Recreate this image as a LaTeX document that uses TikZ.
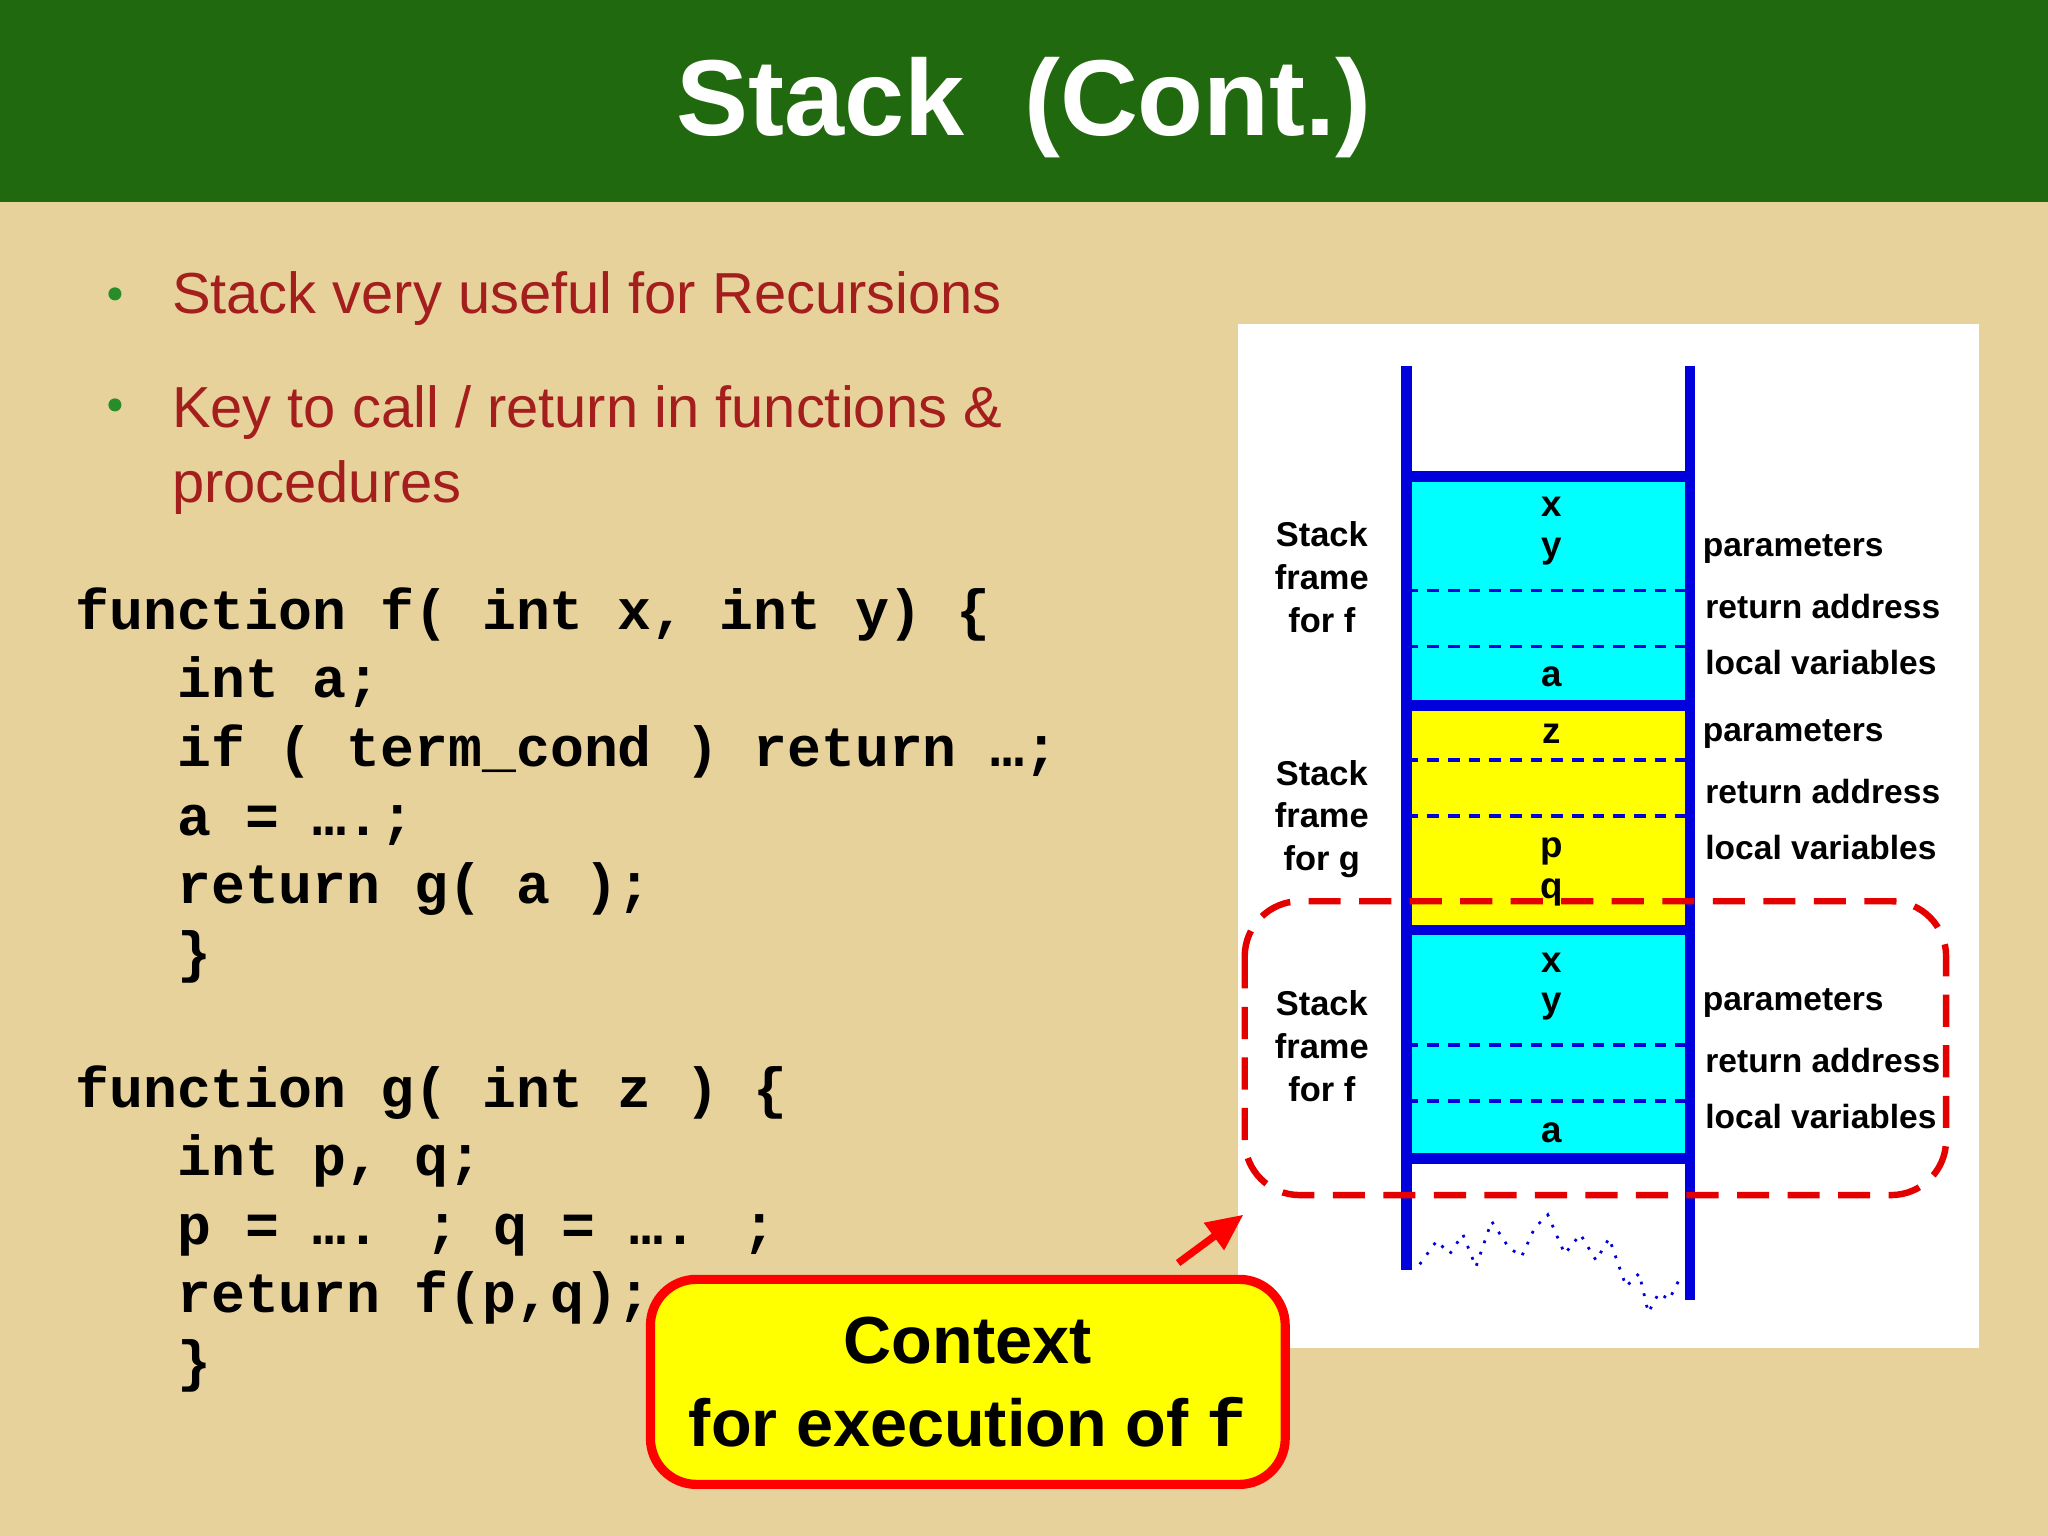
\documentclass[tikz,border=0pt]{standalone}
\usepackage{fontspec}
\setmainfont{Liberation Sans}
\newfontfamily\codefont{Liberation Mono}
\usetikzlibrary{arrows.meta}
\definecolor{bargreen}{RGB}{33,105,14}
\definecolor{tan}{RGB}{231,210,156}
\definecolor{bulred}{RGB}{165,30,30}
\definecolor{bulgreen}{RGB}{40,140,40}
\definecolor{stkblue}{RGB}{0,0,220}
\definecolor{brcyan}{RGB}{0,255,255}
\definecolor{bryellow}{RGB}{255,255,0}
\begin{document}
\begin{tikzpicture}[x=0.01cm,y=-0.01cm,
  bul/.style={anchor=base west,text=bulred,font=\fontsize{12.6}{15}\selectfont,inner sep=0pt},
  code/.style={anchor=base west,font=\codefont\bfseries\fontsize{12.3}{14}\selectfont,inner sep=0pt},
  lbl/.style={inner sep=0pt,font=\bfseries\fontsize{7.3}{9}\selectfont},
  wall/.style={stkblue,line width=2.3pt},
  dsh/.style={stkblue,line width=0.8pt,dash pattern=on 2.5pt off 2pt}]
\useasboundingbox (0,0) rectangle (1568,1176);
\fill[tan] (0,0) rectangle (1568,1176);
\fill[bargreen] (0,0) rectangle (1568,155);
\node[text=white,font=\bfseries\fontsize{23.5}{28}\selectfont] (title) at (784,82) {Stack\ \ (Cont.)};
% bullets
\fill[bulgreen] (88,225) circle (5);
\fill[bulgreen] (88,310) circle (5);
\node[bul] (b1) at (131,240) {Stack very useful for Recursions};
\node[bul] (b2) at (131,327) {Key to call / return in functions \&};
\node[bul] (b3) at (131,385) {procedures};
% code
\node[code] (c1) at (57,482) {function f( int x, int y) \{};
\node[code] (c2) at (135,534) {int a;};
\node[code] (c3) at (135,587) {if ( term\_cond ) return …;};
\node[code] (c4) at (135,640) {a = ….;};
\node[code] (c5) at (135,692) {return g( a );};
\node[code] (c6) at (135,744) {\}};
\node[code] (c7) at (57,848) {function g( int z ) \{};
\node[code] (c8) at (135,900) {int p, q;};
\node[code] (c9) at (135,953) {p = …. ; q = …. ;};
\node[code] (c10) at (135,1005) {return f(p,q);};
\node[code] (c11) at (135,1057) {\}};
% panel
\fill[white] (948,248) rectangle (1515,1032);
\fill[brcyan] (1077,365) rectangle (1294,540);
\fill[bryellow] (1077,540) rectangle (1294,712);
\fill[brcyan] (1077,712) rectangle (1294,887);
\foreach \y in {452,495,582,625,800,843} \draw[dsh] (1077,\y) -- (1294,\y);
\foreach \y in {365,540,712,887} \draw[wall] (1077,\y) -- (1294,\y);
\draw[wall] (1077,280) -- (1077,972);
\draw[wall] (1294,280) -- (1294,995);
\draw[stkblue,line width=0.6pt,dotted] (1087,968) -- (1100,950) -- (1110,960) -- (1120,945) -- (1130,970) -- (1142,935) -- (1155,955) -- (1165,962) -- (1175,940) -- (1185,930) -- (1198,960) -- (1210,945) -- (1222,965) -- (1232,948) -- (1245,985) -- (1255,975) -- (1262,1005) -- (1270,990) -- (1278,995) -- (1288,975);
% cell letters
\foreach \t/\y in {x/388,y/422,a/518,z/562,p/652,q/683,x/737,y/771,a/867}
  \node[lbl,font=\bfseries\fontsize{8}{9}\selectfont] at (1188,\y) {\t};
% left labels
\foreach \y/\n in {442/f,627/g,801/f}
  \node[lbl,align=center,font=\bfseries\fontsize{7.5}{9.3}\selectfont] (fr\y) at (1012,\y) {Stack\\frame\\for \n};
% right labels
\foreach \y in {420,562,768} {
  \node[lbl,anchor=west] at (1303,\y) {parameters};
  \node[lbl,anchor=west] at (1305,\y+44) {return address};
  \node[lbl,anchor=west] at (1305,\y+87) {local variables};
}
% red dashed region
\draw[red!90!black,line width=1.4pt,dash pattern=on 7pt off 4pt,rounded corners=12pt] (953,690) rectangle (1490,915);
\coordinate (arrS) at (902,967);
\coordinate (arrE) at (952,930);
\draw[red,line width=1.6pt,-{Triangle[length=8pt,width=7pt]}] (arrS) -- (arrE);
% callout
\node[draw=red,line width=2pt,fill=bryellow,rounded corners=10pt,minimum width=486*0.01cm,minimum height=157*0.01cm,align=center,font=\bfseries\fontsize{14.5}{18}\selectfont] (ctx) at (741,1058) {Context\\for execution of {\codefont\bfseries f}};
\end{tikzpicture}
\end{document}
